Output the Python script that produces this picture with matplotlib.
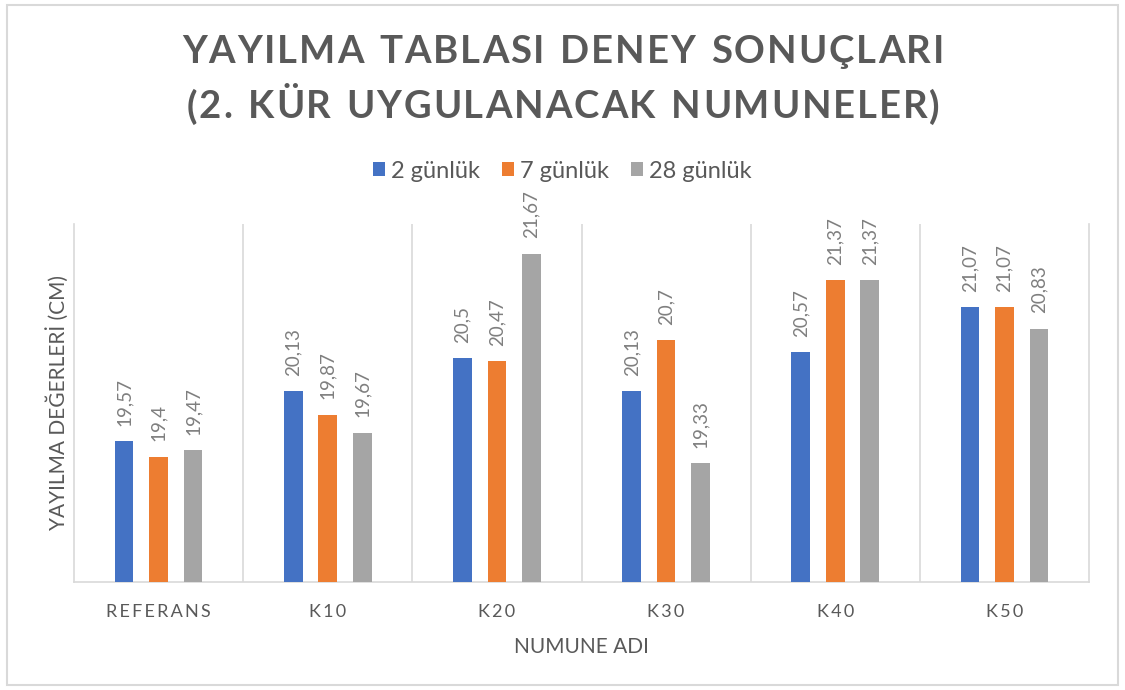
import numpy as np
import matplotlib.pyplot as plt
from matplotlib.patches import Rectangle

plt.rcParams['font.family'] = ['Lato', 'DejaVu Sans']

categories = ['REFERANS', 'K10', 'K20', 'K30', 'K40', 'K50']
series_names = ['2 günlük', '7 günlük', '28 günlük']
gun2 = [19.57, 20.13, 20.5, 20.13, 20.57, 21.07]
gun7 = [19.4, 19.87, 20.47, 20.7, 21.37, 21.07]
gun28 = [19.47, 19.67, 21.67, 19.33, 21.37, 20.83]
labels2 = ['19,57', '20,13', '20,5', '20,13', '20,57', '21,07']
labels7 = ['19,4', '19,87', '20,47', '20,7', '21,37', '21,07']
labels28 = ['19,47', '19,67', '21,67', '19,33', '21,37', '20,83']

colors = ['#4472C4', '#ED7D31', '#A5A5A5']
text_col = '#595959'

W, H = 1125, 690
fig = plt.figure(figsize=(W / 100, H / 100), dpi=100)
ax = fig.add_axes([74/W, 1-582/H, (1089-74)/W, (582-224)/H])

# outer chart frame
fig.patches.append(Rectangle((7/W, 5/H), 1111/W, 680/H, transform=fig.transFigure,
                             fill=False, edgecolor='#d9d9d9', linewidth=1.5))


def tracked_text(cx, cy, s, track, **kw):
    # draw a string letter by letter with extra spacing (pixels), centred at cx, cy (pixels from top)
    r = fig.canvas.get_renderer()
    parts = [fig.text(0, 0, ch, va='center', ha='left', **kw) for ch in s]
    widths = []
    for t, ch in zip(parts, s):
        if ch == ' ':
            t.set_text('n')
            widths.append(t.get_window_extent(r).width * 0.55)
            t.set_text('')
        else:
            widths.append(t.get_window_extent(r).width)
    total = sum(widths) + track * (len(s) - 1)
    x0 = cx - total / 2
    for t, wdt in zip(parts, widths):
        t.set_position((x0 / W, 1 - cy / H))
        x0 += wdt + track


x = np.arange(len(categories))
w = 0.11
step = 0.204
base = 18
for k, (vals, labs) in enumerate(zip([gun2, gun7, gun28], [labels2, labels7, labels28])):
    pos = x + (k - 1) * step
    ax.bar(pos, np.array(vals) - base, w, bottom=base, color=colors[k], label=series_names[k], zorder=3)
    for p, v, l in zip(pos, vals, labs):
        ax.annotate(l, (p, v), xytext=(0, 11), textcoords='offset points', rotation=90,
                    ha='center', va='bottom', fontsize=13.5, color='#7f7f7f')

ax.set_xlim(-0.5, len(categories) - 0.5)
ax.set_ylim(18, 22)
ax.set_yticks([])
ax.set_xticks(x)
ax.set_xticklabels(['\u2009'.join(c) for c in categories], fontsize=13, color=text_col)
ax.tick_params(axis='x', length=0, pad=16)
for b in np.arange(0.5, len(categories) - 1, 1):
    ax.axvline(b, color='#d9d9d9', linewidth=1.2, zorder=1)
for s in ['left', 'right', 'bottom']:
    ax.spines[s].set_color('#d9d9d9')
    ax.spines[s].set_linewidth(1.2)
ax.spines['top'].set_visible(False)

ax.set_ylabel('YAYILMA DEĞERLERİ (CM)', fontsize=15, color=text_col, labelpad=4)
ax.set_xlabel('NUMUNE ADI', fontsize=15, color=text_col, labelpad=12)

tracked_text(563, 52, 'YAYILMA TABLASI DENEY SONUÇLARI', 1.9,
             fontsize=27.5, fontweight='bold', color=text_col)
tracked_text(563, 107, '(2. KÜR UYGULANACAK NUMUNELER)', 1.9,
             fontsize=27.5, fontweight='bold', color=text_col)

fig.legend(loc='center', bbox_to_anchor=(0.5, 1-171/H), ncol=3, frameon=False,
           fontsize=17, labelcolor=text_col, handlelength=0.5, handleheight=0.5,
           handletextpad=0.25, columnspacing=0.95)

fig.savefig('out.png', dpi=100)
